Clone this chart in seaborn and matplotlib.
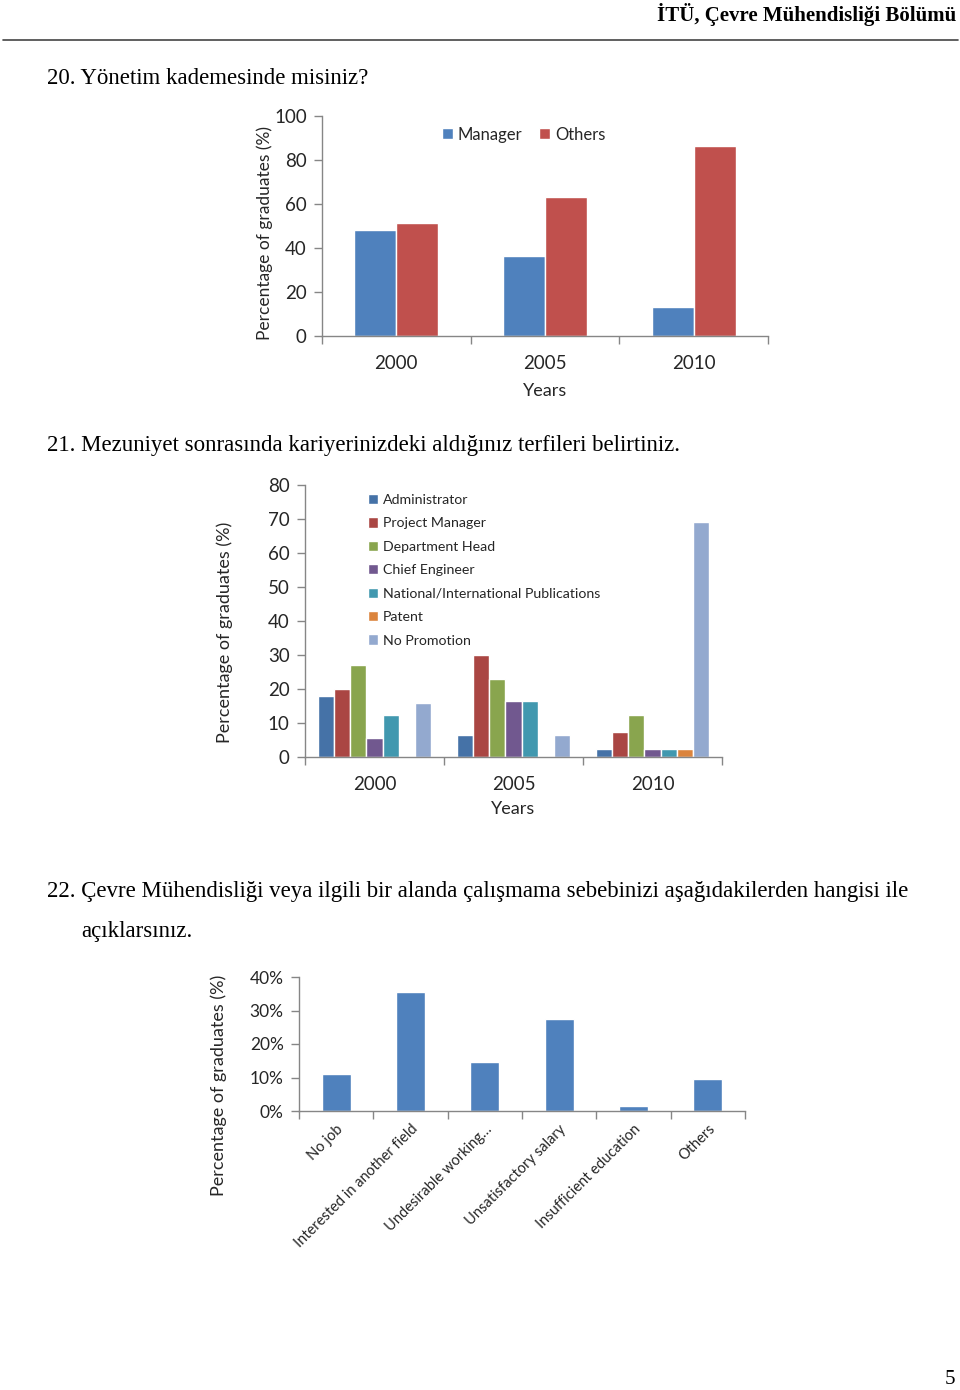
import matplotlib
matplotlib.use("Agg")
import matplotlib.pyplot as plt
import seaborn as sns
import pandas as pd
from matplotlib.ticker import FixedLocator, PercentFormatter

# data
years = ["2000", "2005", "2010"]
manager = [48, 36.5, 13]
others = [51.5, 63, 86.5]

promo_types = ["Administrator", "Project Manager", "Department Head", "Chief Engineer",
               "National/International Publications", "Patent", "No Promotion"]
promo_2000 = [18, 20, 27, 5.5, 12.5, 0, 16]
promo_2005 = [6.5, 30, 23, 16.5, 16.5, 0, 6.5]
promo_2010 = [2.5, 7.5, 12.5, 2.5, 2.5, 2.5, 69]

reasons = ["No job", "Interested in another field", "Undesirable working…",
           "Unsatisfactory salary", "Insufficient education", "Others"]
reason_pct = [11, 35.5, 14.5, 27.5, 1.5, 9.5]

W, H = 960, 1390
sns.set_theme(style="white")
plt.rcParams["font.family"] = ["Lato", "DejaVu Sans"]
SERIF = ["Liberation Serif", "DejaVu Serif"]
GREY = "#868686"

fig = plt.figure(figsize=(W / 100, H / 100), dpi=100)


def px_axes(x0, x1, y_top, y_bot):
    return fig.add_axes([x0 / W, 1 - y_bot / H, (x1 - x0) / W, (y_bot - y_top) / H])


def excel_style(ax, n_cat):
    sns.despine(ax=ax)
    for s in ("left", "bottom"):
        ax.spines[s].set_color(GREY)
        ax.spines[s].set_linewidth(1)
    ax.set_xlim(-0.5, n_cat - 0.5)
    ax.xaxis.set_minor_locator(FixedLocator([i - 0.5 for i in range(n_cat + 1)]))
    ax.tick_params(axis="x", which="major", length=0, pad=14)
    ax.tick_params(axis="x", which="minor", length=6, color=GREY, width=1, direction="out", bottom=True)
    ax.tick_params(axis="y", length=6, color=GREY, width=1, direction="out", left=True, pad=5)
    ax.grid(False)


def page_text(x, y, s, **kw):
    fig.text(x / W, 1 - y / H, s, family=SERIF, color="black", **kw)


# page header
page_text(956, 15, "İTÜ, Çevre Mühendisliği Bölümü", ha="right", va="center",
          fontsize=15, fontweight="bold")
fig.add_artist(plt.Line2D([3 / W, 958 / W], [1 - 40 / H, 1 - 40 / H], color="#444444", lw=1.2))
page_text(47, 79, "20. Yönetim kademesinde misiniz?", va="center", fontsize=16.5)
page_text(47, 446, "21. Mezuniyet sonrasında kariyerinizdeki aldığınız terfileri belirtiniz.",
          va="center", fontsize=16.5)
page_text(47, 891, "22. Çevre Mühendisliği veya ilgili bir alanda çalışmama sebebinizi "
          "aşağıdakilerden hangisi ile", va="center", fontsize=16.5)
page_text(81, 931, "açıklarsınız.", va="center", fontsize=16.5)
page_text(955, 1380, "5", ha="right", va="center", fontsize=15)

# chart 20
df1 = pd.DataFrame({"Years": years * 2, "value": manager + others,
                    "group": ["Manager"] * 3 + ["Others"] * 3})
ax1 = px_axes(322, 768, 116, 336)
sns.barplot(data=df1, x="Years", y="value", hue="group", palette=["#4F81BD", "#C0504D"],
            width=0.565, saturation=1, ax=ax1, legend=True)
ax1.set_ylim(0, 100)
ax1.set_yticks(range(0, 101, 20))
excel_style(ax1, 3)
ax1.tick_params(labelsize=13.5)
ax1.set_ylabel("Percentage of graduates (%)", fontsize=12.5)
ax1.yaxis.set_label_coords(-0.11, 0.47)
ax1.set_xlabel("Years", fontsize=13)
ax1.xaxis.set_label_coords(0.5, -0.215)
ax1.legend(loc="upper left", bbox_to_anchor=(0.235, 1.02), ncol=2, frameon=False, fontsize=12,
           handlelength=0.65, handleheight=0.65, handletextpad=0.3, columnspacing=1.0)

# chart 21
df2 = pd.DataFrame({
    "Years": [y for y in years for _ in promo_types],
    "value": promo_2000 + promo_2005 + promo_2010,
    "type": promo_types * 3,
})
promo_colors = ["#4572A7", "#AA4643", "#89A54E", "#71588F", "#4198AF", "#DB843D", "#93A9CF"]
ax2 = px_axes(305, 722, 485, 757)
sns.barplot(data=df2, x="Years", y="value", hue="type", palette=promo_colors,
            width=0.82, saturation=1, ax=ax2, legend=True)
ax2.set_ylim(0, 80)
ax2.set_yticks(range(0, 81, 10))
excel_style(ax2, 3)
ax2.tick_params(labelsize=13.5)
ax2.set_ylabel("Percentage of graduates (%)", fontsize=13)
ax2.yaxis.set_label_coords(-0.173, 0.46)
ax2.set_xlabel("Years", fontsize=13)
ax2.xaxis.set_label_coords(0.5, -0.16)
ax2.legend(loc="upper left", bbox_to_anchor=(0.12, 1.015), ncol=1, frameon=False, fontsize=10.2,
           handlelength=0.75, handleheight=0.75, handletextpad=0.3, labelspacing=0.8)

# chart 22
df3 = pd.DataFrame({"reason": reasons, "pct": reason_pct})
ax3 = px_axes(299, 745, 977, 1111)
sns.barplot(data=df3, x="reason", y="pct", color="#4F81BD", width=0.39, saturation=1, ax=ax3)
ax3.set_ylim(0, 40)
ax3.set_yticks(range(0, 41, 10))
ax3.yaxis.set_major_formatter(PercentFormatter(decimals=0))
excel_style(ax3, len(reasons))
ax3.tick_params(axis="y", labelsize=12.5)
ax3.tick_params(axis="x", pad=8)
plt.setp(ax3.get_xticklabels(), rotation=45, ha="right", rotation_mode="anchor", fontsize=10.5)
ax3.set_xlabel("")
ax3.set_ylabel("Percentage of graduates (%)", fontsize=13)
ax3.yaxis.set_label_coords(-0.161, 0.19)

fig.savefig("out.png", dpi=100)
